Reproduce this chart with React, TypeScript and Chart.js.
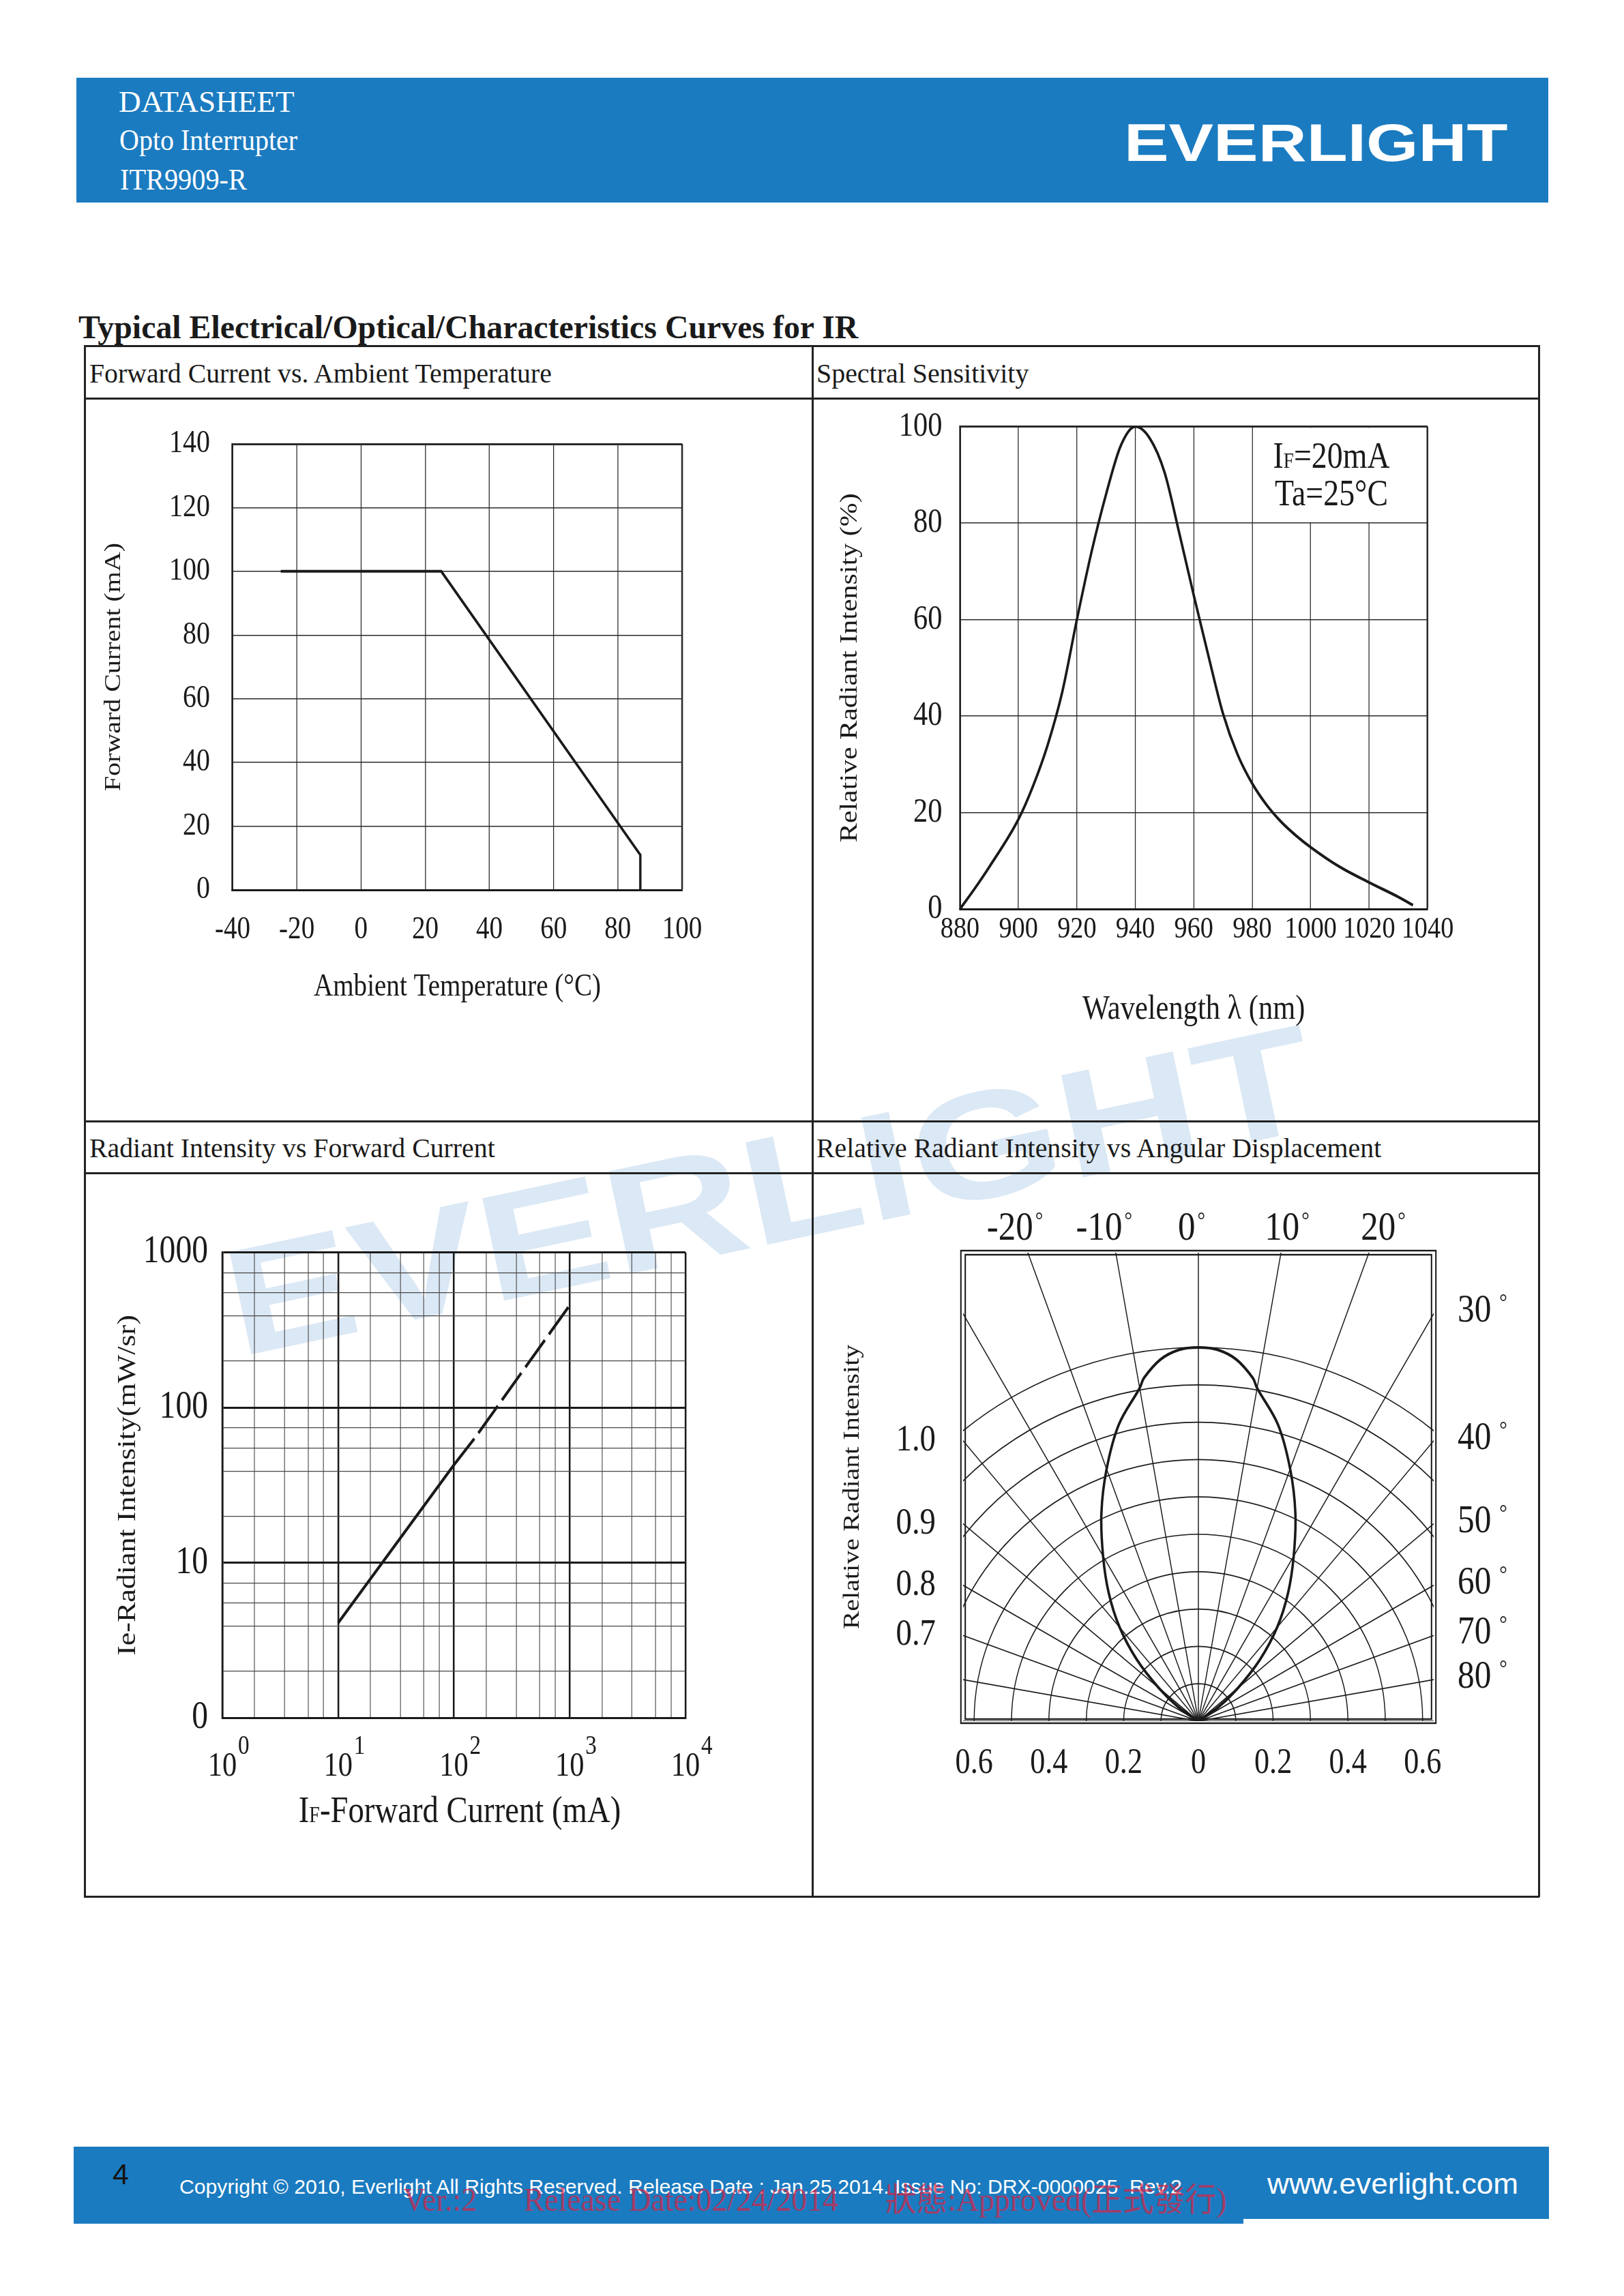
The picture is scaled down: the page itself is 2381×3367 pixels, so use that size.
import React, { useEffect, useLayoutEffect, useRef } from 'react';
import { Chart, registerables } from 'chart.js';

Chart.register(...registerables);

const SERIF = "'Liberation Serif', 'Times New Roman', 'Noto Sans CJK TC', serif";
const SANS = "'Liberation Sans', Arial, sans-serif";
const INK = '#1a1a1a';
const GRID = '#2b2b2b';
const BLUE = '#1b7bc0';
const SQUEEZE = 0.85;

Chart.defaults.font.family = SERIF;
Chart.defaults.color = INK;

// ---------------- data ----------------
// Forward Current vs. Ambient Temperature
const ambientTemperature = [-25, 25, 87, 87];
const forwardCurrentMax = [100, 100, 11, 0];

// Spectral Sensitivity
const wavelengthNm = [880, 885, 890, 900, 905, 910, 915, 920, 925, 930, 935, 940, 945, 950, 955, 960, 965, 970, 975, 980, 985, 990, 995, 1000, 1010, 1020, 1030, 1035];
const relativeIntensityPct = [0, 4.2, 8.7, 18.6, 25.5, 34, 45, 60, 74, 86, 96, 100, 97.5, 90.5, 78, 65, 52.5, 40.5, 32, 26, 21.5, 18, 15.2, 12.8, 8.7, 5.5, 2.5, 0.8];

// Radiant Intensity vs Forward Current
const forwardCurrentSolid = [10, 100, 150];
const radiantIntensitySolid = [4.1, 42.7, 63];
const forwardCurrentDashed = [150, 1000];
const radiantIntensityDashed = [63, 456];
const logDecadesX = [1, 10, 100, 1000, 10000];
const logDecadeExponentsX = ['0', '1', '2', '3', '4'];
const logMinorX = [1.9, 3.45, 5.5, 7.5];
const logDecadesY = [1, 10, 100, 1000];
const logDecadeLabelsY = ['0', '10', '100', '1000'];
const logMinorY = [2, 3.9, 5.5, 7.4];

// Relative Radiant Intensity vs Angular Displacement
const lobeAngleDeg = [-58, -55, -50, -45, -40, -35, -30, -25, -20, -15, -10, -9, -6, -3, 0, 3, 6, 9, 10, 15, 20, 25, 30, 35, 40, 45, 50, 55, 58];
const lobeIntensity = [0, 0.065, 0.138, 0.233, 0.328, 0.418, 0.51, 0.614, 0.718, 0.822, 0.905, 0.93, 0.973, 0.995, 1.0, 0.995, 0.973, 0.93, 0.905, 0.822, 0.718, 0.614, 0.51, 0.418, 0.328, 0.233, 0.138, 0.065, 0];
const ringRadii = [0.1, 0.2, 0.3, 0.4, 0.5, 0.6, 0.7, 0.8, 0.9, 1.0];
const spokeAngleDeg = [-90, -80, -70, -60, -50, -40, -30, -20, -10, 0, 10, 20, 30, 40, 50, 60, 70, 80, 90];
const topAngleDeg = [-20, -10, 0, 10, 20];
const sideAngleDeg = [30, 40, 50, 60, 70, 80];
const sideIntensityLabels = ['1.0', '0.9', '0.8', '0.7'];
const sideIntensityAngleDeg = [40, 50, 60, 70];
const distanceTicks = [-0.6, -0.4, -0.2, 0, 0.2, 0.4, 0.6];

// layout nudges (pixels) for the angle labels above the polar box
const topLabelNudge = [-19, -17, -10, 9, 21];

// ---------------- helpers ----------------
type Run = { text: string; size: number; dy?: number; gap?: number };

function drawRuns(ctx: CanvasRenderingContext2D, runs: Run[], x: number, baseline: number, align: 'left' | 'center' | 'right') {
  const widths = runs.map((r) => {
    ctx.font = `400 ${r.size}px ${SERIF}`;
    return ctx.measureText(r.text).width;
  });
  const total = runs.reduce((s, r, i) => s + widths[i] + (r.gap || 0), 0);
  let cx = align === 'left' ? x : align === 'center' ? x - total / 2 : x - total;
  ctx.textAlign = 'left';
  ctx.textBaseline = 'alphabetic';
  runs.forEach((r, i) => {
    cx += r.gap || 0;
    ctx.font = `400 ${r.size}px ${SERIF}`;
    ctx.fillText(r.text, cx, baseline - (r.dy || 0));
    cx += widths[i];
  });
}

function zeroPad(s: any) {
  s.paddingTop = 0;
  s.paddingBottom = 0;
  s.paddingLeft = 0;
  s.paddingRight = 0;
}

function mountSqueezed(canvas: HTMLCanvasElement, W: number, H: number, build: (k: number, Wl: number) => any) {
  const Wl = Math.round(W / SQUEEZE);
  const k = W / Wl;
  canvas.width = Wl;
  canvas.height = H;
  canvas.style.width = `${W}px`;
  canvas.style.height = `${H}px`;
  const cfg = build(k, Wl);
  cfg.plugins = [
    ...(cfg.plugins || []),
    {
      id: 'squeeze',
      beforeDraw: (c: any) => {
        c.ctx.save();
        c.ctx.setTransform(k, 0, 0, 1, 0, 0);
      },
      afterDraw: (c: any) => {
        c.ctx.restore();
      },
    },
  ];
  const chart = new Chart(canvas, cfg);
  canvas.width = W;
  chart.draw();
  return () => chart.destroy();
}

const common = () => ({
  responsive: false,
  maintainAspectRatio: false,
  animation: false,
  devicePixelRatio: 1,
  events: [],
  plugins: { legend: { display: false }, tooltip: { enabled: false } },
});

type TxtProps = {
  x: number; y: number; size: number; text: string;
  family?: string; weight?: number; color?: string; width?: number; rotate?: number;
};

function Txt({ x, y, size, text, family = SERIF, weight = 400, color = INK, width, rotate = 0 }: TxtProps) {
  const box = useRef<HTMLDivElement>(null);
  const span = useRef<HTMLSpanElement>(null);
  const mark = useRef<HTMLSpanElement>(null);
  useLayoutEffect(() => {
    const b = box.current!;
    const s = span.current!;
    const m = mark.current!;
    const base = m.offsetTop;
    const w = s.offsetWidth;
    const sx = width && w > 0 ? width / w : 1;
    b.style.top = `${y - base}px`;
    b.style.transformOrigin = `0px ${base}px`;
    b.style.transform = `rotate(${rotate}deg) scaleX(${sx})`;
  });
  return (
    <div
      ref={box}
      style={{ position: 'absolute', left: x, top: y, whiteSpace: 'pre', fontFamily: family, fontSize: size, fontWeight: weight, color, lineHeight: 1.2 }}
    >
      <span ref={span}>{text}</span>
      <span ref={mark} style={{ display: 'inline-block', width: 0, height: 0 }} />
    </div>
  );
}

function Rect({ x, y, w, h, c = '#222' }: { x: number; y: number; w: number; h: number; c?: string }) {
  return <div style={{ position: 'absolute', left: x, top: y, width: w, height: h, background: c }} />;
}

// ---------------- charts ----------------
function ForwardCurrentChart() {
  const ref = useRef<HTMLCanvasElement>(null);
  const left = 126, top = 586, W = 1064, H = 1056;
  useEffect(() => {
    const area = { l: 341, r: 1000, t: 651, b: 1305 };
    return mountSqueezed(ref.current!, W, H, (k, Wl) => {
      const L = (area.l - left) / k;
      const R = (area.r - left) / k;
      return {
        type: 'line',
        data: {
          datasets: [{
            data: ambientTemperature.map((t, i) => ({ x: t, y: forwardCurrentMax[i] })),
            borderColor: INK, borderWidth: 4, pointRadius: 0, tension: 0, fill: false, borderJoinStyle: 'miter',
          }],
        },
        options: {
          ...common(),
          layout: { padding: { left: 0, top: area.t - top, right: Wl - R, bottom: 0 } },
          scales: {
            x: {
              type: 'linear', min: -40, max: 100,
              ticks: { stepSize: 20, padding: 31, font: { size: 46 }, color: INK, maxRotation: 0, autoSkip: false },
              grid: { color: GRID, lineWidth: (c: any) => (c.tick && c.tick.value === 100 ? 3 : 1.5), drawTicks: false },
              border: { color: INK, width: 3 },
              title: { display: true, text: 'Ambient Temperature (°C)', font: { size: 46 }, color: INK, padding: { top: 0, bottom: 166 } },
              afterFit: (s: any) => { s.height = H - (area.b - top); zeroPad(s); },
            },
            y: {
              type: 'linear', min: 0, max: 140,
              ticks: { stepSize: 20, padding: L - (308 - left) / k, font: { size: 47 }, color: INK, autoSkip: false },
              grid: { color: GRID, lineWidth: (c: any) => (c.tick && c.tick.value === 140 ? 3 : 1.5), drawTicks: false },
              border: { color: INK, width: 3 },
              title: { display: true, text: 'Forward Current (mA)', font: { size: 40 }, color: INK, padding: { top: (167 - left) / k - 24, bottom: 0 } },
              afterFit: (s: any) => { s.width = L; zeroPad(s); },
            },
          },
        },
      };
    });
  }, []);
  return <canvas ref={ref} style={{ position: 'absolute', left, top }} />;
}

function SpectralChart() {
  const ref = useRef<HTMLCanvasElement>(null);
  const left = 1193, top = 586, W = 1060, H = 1056;
  useEffect(() => {
    const area = { l: 1407.5, r: 2093, t: 625.5, b: 1333 };
    return mountSqueezed(ref.current!, W, H, (k, Wl) => {
      const L = (area.l - left) / k;
      const R = (area.r - left) / k;
      const note = {
        id: 'note',
        beforeDatasetsDraw(chart: any) {
          const { ctx, chartArea: a, scales: { x, y } } = chart;
          const x0 = x.getPixelForValue(980) + 1.5;
          const y1 = y.getPixelForValue(80) - 1.2;
          ctx.save();
          ctx.fillStyle = '#ffffff';
          ctx.fillRect(x0, a.top + 2, a.right - 2.5 - x0, y1 - a.top - 2);
          ctx.restore();
        },
        afterDatasetsDraw(chart: any) {
          const { ctx, scales: { x, y } } = chart;
          const x0 = x.getPixelForValue(980) + 36;
          const t = y.getPixelForValue(100);
          ctx.save();
          ctx.fillStyle = INK;
          drawRuns(ctx, [{ text: 'I', size: 54 }, { text: 'F', size: 32 }, { text: '=20mA', size: 54 }], x0, t + 60.5, 'left');
          drawRuns(ctx, [{ text: 'Ta=25°C', size: 54 }], x0 + 3, t + 115, 'left');
          ctx.restore();
        },
      };
      return {
        type: 'line',
        data: {
          datasets: [{
            data: wavelengthNm.map((w, i) => ({ x: w, y: relativeIntensityPct[i] })),
            borderColor: INK, borderWidth: 4.2, pointRadius: 0, cubicInterpolationMode: 'monotone', fill: false,
          }],
        },
        options: {
          ...common(),
          layout: { padding: { left: 0, top: area.t - top, right: Wl - R, bottom: 0 } },
          scales: {
            x: {
              type: 'linear', min: 880, max: 1040,
              ticks: { stepSize: 20, padding: 3, font: { size: 45 }, color: INK, maxRotation: 0, autoSkip: false, callback: (v: any) => String(v) },
              grid: { color: GRID, lineWidth: (c: any) => (c.tick && c.tick.value === 1040 ? 3 : 1.5), drawTicks: false },
              border: { color: INK, width: 3 },
              title: { display: true, text: 'Wavelength λ (nm)', font: { size: 50 }, color: INK, padding: { top: 0, bottom: 131 } },
              afterFit: (s: any) => { s.height = H - (area.b - top); zeroPad(s); },
            },
            y: {
              type: 'linear', min: 0, max: 100,
              ticks: { stepSize: 20, padding: L - (1381.6 - left) / k, font: { size: 50 }, color: INK, autoSkip: false },
              grid: { color: GRID, lineWidth: (c: any) => (c.tick && c.tick.value === 100 ? 3 : 1.5), drawTicks: false },
              border: { color: INK, width: 3 },
              title: { display: true, text: 'Relative Radiant Intensity (%)', font: { size: 42 }, color: INK, padding: { top: (1247 - left) / k - 25.2, bottom: 0 } },
              afterFit: (s: any) => { s.width = L; zeroPad(s); },
            },
          },
        },
        plugins: [note],
      };
    });
  }, []);
  return <canvas ref={ref} style={{ position: 'absolute', left, top }} />;
}

function RadiantChart() {
  const ref = useRef<HTMLCanvasElement>(null);
  const left = 126, top = 1722, W = 1064, H = 1058;
  useEffect(() => {
    const area = { l: 326, r: 1005, t: 1836.5, b: 2519.5 };
    const xTicks = logDecadesX.flatMap((d, i) => (i < logDecadesX.length - 1 ? [d, ...logMinorX.map((m) => d * m)] : [d]));
    const yTicks = logDecadesY.flatMap((d, i) => (i < logDecadesY.length - 1 ? [d, ...logMinorY.map((m) => d * m)] : [d]));
    const isDecX = (v: any) => logDecadesX.includes(v);
    const isDecY = (v: any) => logDecadesY.includes(v);
    return mountSqueezed(ref.current!, W, H, (k, Wl) => {
      const L = (area.l - left) / k;
      const R = (area.r - left) / k;
      const extras = {
        id: 'ifTitle',
        afterDatasetsDraw(chart: any) {
          const { ctx, chartArea: a, scales: { x } } = chart;
          ctx.save();
          ctx.fillStyle = INK;
          // exponents of the decade labels
          ctx.font = `400 50px ${SERIF}`;
          const w10 = ctx.measureText('10').width;
          logDecadesX.forEach((d, i) => {
            const px = x.getPixelForValue(d);
            drawRuns(ctx, [{ text: logDecadeExponentsX[i], size: 39 }], px + w10 / 2 + 2, 2572 - top, 'left');
          });
          // axis title with small-cap subscript F
          drawRuns(ctx, [{ text: 'I', size: 55 }, { text: 'F', size: 33 }, { text: '-Forward Current (mA)', size: 55 }], (a.left + a.right) / 2 + 10, 2672 - top, 'center');
          ctx.restore();
        },
      };
      return {
        type: 'line',
        data: {
          datasets: [
            {
              data: forwardCurrentSolid.map((v, i) => ({ x: v, y: radiantIntensitySolid[i] })),
              borderColor: INK, borderWidth: 4.5, pointRadius: 0, tension: 0, fill: false,
            },
            {
              data: forwardCurrentDashed.map((v, i) => ({ x: v, y: radiantIntensityDashed[i] })),
              borderColor: INK, borderWidth: 4.5, pointRadius: 0, tension: 0, fill: false,
              borderDash: [52, 11], borderDashOffset: 52, borderCapStyle: 'butt',
            },
          ],
        },
        options: {
          ...common(),
          layout: { padding: { left: 0, top: area.t - top, right: Wl - R, bottom: 0 } },
          scales: {
            x: {
              type: 'logarithmic', min: 1, max: 10000,
              afterBuildTicks: (s: any) => { s.ticks = xTicks.map((v) => ({ value: v })); },
              ticks: {
                callback: (v: any) => (isDecX(v) ? '10' : ''),
                font: { size: 50 }, padding: 41, color: INK, autoSkip: false, maxRotation: 0,
              },
              grid: {
                color: (c: any) => (c.tick && isDecX(c.tick.value) ? INK : '#474747'),
                lineWidth: (c: any) => (c.tick && isDecX(c.tick.value) ? 3 : 1.3),
                drawTicks: false,
              },
              border: { color: INK, width: 3 },
              title: { display: false },
              afterFit: (s: any) => { s.height = H - (area.b - top); zeroPad(s); },
            },
            y: {
              type: 'logarithmic', min: 1, max: 1000,
              afterBuildTicks: (s: any) => { s.ticks = yTicks.map((v) => ({ value: v })); },
              ticks: {
                callback: (v: any) => { const i = logDecadesY.indexOf(v); return i >= 0 ? logDecadeLabelsY[i] : ''; },
                font: { size: 56 }, padding: L - (305 - left) / k, color: INK, autoSkip: false,
              },
              grid: {
                color: (c: any) => (c.tick && isDecY(c.tick.value) ? INK : '#474747'),
                lineWidth: (c: any) => (c.tick && isDecY(c.tick.value) ? 3 : 1.3),
                drawTicks: false,
              },
              border: { color: INK, width: 3 },
              title: { display: true, text: 'Ie-Radiant Intensity(mW/sr)', font: { size: 44 }, color: INK, padding: { top: (187.7 - left) / k - 26.4, bottom: 0 } },
              afterFit: (s: any) => { s.width = L; zeroPad(s); },
            },
          },
        },
        plugins: [extras],
      };
    });
  }, []);
  return <canvas ref={ref} style={{ position: 'absolute', left, top }} />;
}

function AngularChart() {
  const ref = useRef<HTMLCanvasElement>(null);
  const left = 1193, top = 1722, W = 1060, H = 1058;
  useEffect(() => {
    const area = { l: 1412, r: 2102, t: 1837, b: 2524 };
    const unit = 548;
    const xHalf = (area.r - area.l) / 2 / unit;
    const yTop = (area.b - area.t) / unit;
    return mountSqueezed(ref.current!, W, H, (k, Wl) => {
      const L = (area.l - left) / k;
      const R = (area.r - left) / k;
      const rad = (d: number) => (d * Math.PI) / 180;
      const polarGrid = {
        id: 'polarGrid',
        beforeDatasetsDraw(chart: any) {
          const { ctx, chartArea: a, scales: { x, y } } = chart;
          const cx = x.getPixelForValue(0);
          const cy = y.getPixelForValue(0);
          ctx.save();
          ctx.beginPath();
          ctx.rect(a.left, a.top, a.right - a.left, a.bottom - a.top);
          ctx.clip();
          ctx.strokeStyle = INK;
          ctx.lineWidth = 1.7;
          ringRadii.forEach((r) => {
            const rx = x.getPixelForValue(r) - cx;
            const ry = cy - y.getPixelForValue(r);
            ctx.beginPath();
            ctx.ellipse(cx, cy, rx, ry, 0, Math.PI, 2 * Math.PI);
            ctx.stroke();
          });
          spokeAngleDeg.forEach((d) => {
            ctx.beginPath();
            ctx.moveTo(cx, cy);
            ctx.lineTo(x.getPixelForValue(3 * Math.sin(rad(d))), y.getPixelForValue(3 * Math.cos(rad(d))));
            ctx.stroke();
          });
          ctx.restore();
          ctx.save();
          ctx.strokeStyle = INK;
          ctx.lineWidth = 2.4;
          const gx = 3.2 / k, gy = 3;
          ctx.strokeRect(a.left - gx, a.top - gy, a.right - a.left + 2 * gx, a.bottom - a.top + 2 * gy);
          ctx.strokeRect(a.left + gx, a.top + gy, a.right - a.left - 2 * gx, a.bottom - a.top - 2 * gy);
          ctx.restore();
        },
        afterDatasetsDraw(chart: any) {
          const { ctx, chartArea: a, scales: { x, y } } = chart;
          const xMax = x.max, yMax = y.max;
          ctx.save();
          ctx.fillStyle = INK;
          topAngleDeg.forEach((d, i) => {
            const px = x.getPixelForValue(yMax * Math.tan(rad(d))) + topLabelNudge[i] / k;
            drawRuns(ctx, [{ text: String(d), size: 60 }, { text: '°', size: 34, dy: 18, gap: 3 / k }], px, a.top - 19.5, 'center');
          });
          sideAngleDeg.forEach((d) => {
            const py = y.getPixelForValue(xMax / Math.tan(rad(d)));
            drawRuns(ctx, [{ text: String(d), size: 58 }, { text: '°', size: 34, dy: 18, gap: 12 / k }], a.right + 35 / k, py + 12, 'left');
          });
          sideIntensityAngleDeg.forEach((d, i) => {
            const py = y.getPixelForValue(xMax / Math.tan(rad(d)));
            drawRuns(ctx, [{ text: sideIntensityLabels[i], size: 55 }], a.left - 40 / k, py + 14, 'right');
          });
          ctx.restore();
        },
      };
      return {
        type: 'line',
        data: {
          datasets: [{
            data: lobeAngleDeg.map((d, i) => ({ x: lobeIntensity[i] * Math.sin(rad(d)), y: lobeIntensity[i] * Math.cos(rad(d)) })),
            borderColor: INK, borderWidth: 4.2, pointRadius: 0, tension: 0.35, fill: false,
          }],
        },
        options: {
          ...common(),
          layout: { padding: { left: 0, top: area.t - top, right: Wl - R, bottom: 0 } },
          scales: {
            x: {
              type: 'linear', min: -xHalf, max: xHalf,
              afterBuildTicks: (s: any) => { s.ticks = distanceTicks.map((v) => ({ value: v })); },
              ticks: {
                callback: (v: any) => (v === 0 ? '0' : Math.abs(v).toFixed(1)),
                font: { size: 52 }, padding: 31.5, color: INK, autoSkip: false, maxRotation: 0,
              },
              grid: { display: false, drawTicks: false },
              border: { display: false },
              afterFit: (s: any) => { s.height = H - (area.b - top); zeroPad(s); },
            },
            y: {
              type: 'linear', min: 0, max: yTop,
              ticks: { display: false },
              grid: { display: false, drawTicks: false },
              border: { display: false },
              title: { display: true, text: 'Relative Radiant Intensity', font: { size: 40 }, color: INK, padding: { top: (1250 - left) / k - 24, bottom: 0 } },
              afterFit: (s: any) => { s.width = L; zeroPad(s); },
            },
          },
        },
        plugins: [polarGrid],
      };
    });
  }, []);
  return <canvas ref={ref} style={{ position: 'absolute', left, top }} />;
}

// ---------------- page ----------------
export default function App() {
  const lineC = '#222';
  return (
    <div style={{ position: 'absolute', left: 0, top: 0, width: 2381, height: 3367, background: '#ffffff', overflow: 'hidden' }}>
      {/* faint watermark */}
      <Txt x={350} y={1990} size={223} text="EVERLIGHT" family={SANS} weight={700} color="#dbe8f5" width={1625} rotate={-12} />

      {/* header band */}
      <Rect x={112} y={114} w={2158} h={183} c={BLUE} />
      <Txt x={174} y={164} size={44} text="DATASHEET" color="#ffffff" width={258} />
      <Txt x={175} y={220} size={44} text="Opto Interrupter" color="#ffffff" width={261} />
      <Txt x={176} y={278} size={44} text="ITR9909-R" color="#ffffff" width={186} />
      <Txt x={1648} y={236} size={78} text="EVERLIGHT" family={SANS} weight={700} color="#ffffff" width={562} />

      {/* section title */}
      <Txt x={115} y={496} size={48} weight={700} text="Typical Electrical/Optical/Characteristics Curves for IR" width={1143} />

      {/* table grid */}
      <Rect x={123} y={506} w={2134} h={2.5} c={lineC} />
      <Rect x={123} y={583} w={2134} h={2.5} c={lineC} />
      <Rect x={123} y={1643} w={2134} h={2.5} c={lineC} />
      <Rect x={123} y={1719} w={2134} h={2.5} c={lineC} />
      <Rect x={123} y={2780} w={2134} h={2.5} c={lineC} />
      <Rect x={123} y={506} w={2.5} h={2276} c={lineC} />
      <Rect x={1190} y={506} w={2.5} h={2276} c={lineC} />
      <Rect x={2255} y={506} w={2.5} h={2276} c={lineC} />

      {/* cell titles */}
      <Txt x={131} y={561} size={39} text="Forward Current vs. Ambient Temperature" width={678} />
      <Txt x={1197} y={561} size={39} text="Spectral Sensitivity" width={311} />
      <Txt x={131} y={1697} size={39} text="Radiant Intensity vs Forward Current" width={595} />
      <Txt x={1197} y={1697} size={39} text="Relative Radiant Intensity vs Angular Displacement" width={828} />

      <ForwardCurrentChart />
      <SpectralChart />
      <RadiantChart />
      <AngularChart />

      {/* footer band */}
      <Rect x={108} y={3148} w={2163} h={106} c={BLUE} />
      <Rect x={108} y={3253} w={1715} h={8} c={BLUE} />
      <Txt x={165} y={3203} size={43} text="4" family={SANS} color="#151515" />
      <Txt x={263} y={3217} size={30} text="Copyright © 2010, Everlight All Rights Reserved. Release Date : Jan.25.2014. Issue No: DRX-0000025  Rev.2" family={SANS} color="#ffffff" width={1470} />
      <Txt x={591} y={3242} size={48} text={'Ver.:2      Release Date:02/24/2014      狀態:Approved(正式發行)'} color="rgba(222,32,64,0.7)" width={1207} />
      <Txt x={1858} y={3217} size={42} text="www.everlight.com" family={SANS} color="#ffffff" width={368} />
    </div>
  );
}
